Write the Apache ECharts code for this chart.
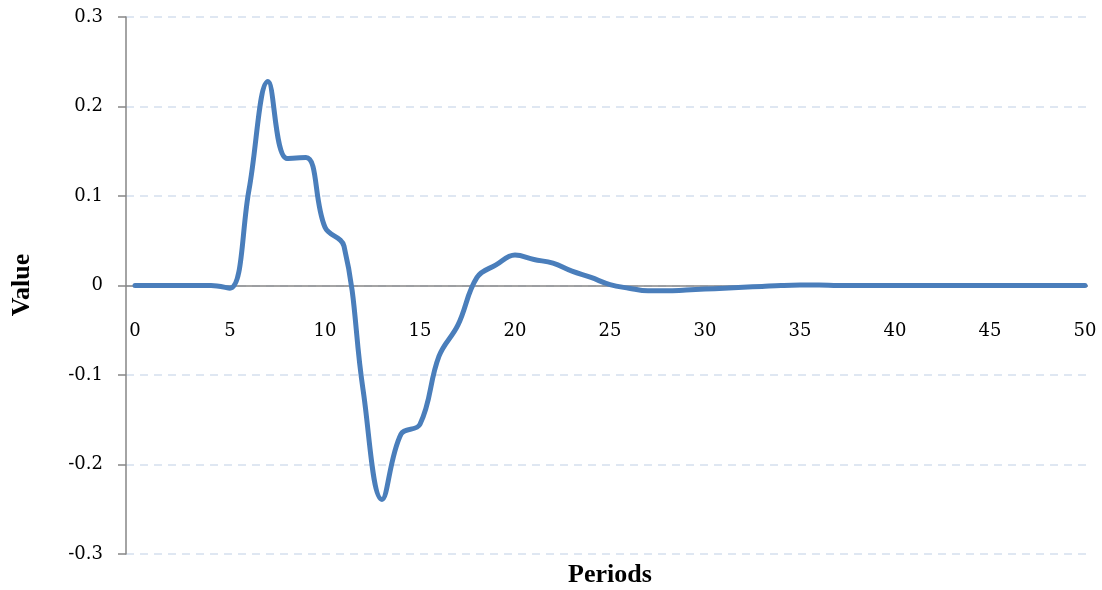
<!DOCTYPE html>
<html><head><meta charset="utf-8">
<script src="https://cdn.jsdelivr.net/npm/echarts@6/dist/echarts.min.js"></script>
<style>html,body{margin:0;padding:0;background:#fff}#c{width:1102px;height:590px}</style>
</head><body><div id="c"></div>
<script>
var periods = [];
for (var i = 0; i <= 50; i++) periods.push(i);
var values = [0, 0, 0, 0, 0, -0.003, 0.107, 0.228, 0.142, 0.143,
  0.065, 0.044, -0.116, -0.239, -0.166, -0.155, -0.079, -0.044, 0.009, 0.023,
  0.034, 0.029, 0.025, 0.016, 0.009, 0.001, -0.003, -0.006, -0.006, -0.005,
  -0.004, -0.003, -0.002, -0.001, 0, 0.0005, 0.0005, 0, 0, 0,
  0, 0, 0, 0, 0, 0, 0, 0, 0, 0, 0];
var xTicks = [0, 5, 10, 15, 20, 25, 30, 35, 40, 45, 50];

var chart = echarts.init(document.getElementById('c'));
var numFont = 'DejaVu Serif';
chart.setOption({
  animation: false,
  grid: {left: 126, right: 14, top: 17, bottom: 36, outerBoundsMode: 'none', containLabel: false},
  graphic: [{
    type: 'text', x: 610, y: 575, silent: true,
    style: {text: 'Periods', fontFamily: 'Liberation Serif', fontWeight: 'bold', fontSize: 26,
      fill: '#000', align: 'center', verticalAlign: 'middle'}
  }, {
    type: 'text', x: 22, y: 285, rotation: Math.PI / 2, silent: true,
    style: {text: 'Value', fontFamily: 'Liberation Serif', fontWeight: 'bold', fontSize: 26,
      fill: '#000', align: 'center', verticalAlign: 'middle'}
  }],
  xAxis: {
    type: 'value', min: -9/19, max: 50 + 3/19,
    axisLine: {show: false, onZero: false},
    axisTick: {show: false},
    splitLine: {show: false},
    axisLabel: {customValues: xTicks, margin: -232, fontFamily: numFont, fontSize: 18, color: '#000'}
  },
  yAxis: {
    type: 'value', min: -0.3, max: 0.3, interval: 0.1,
    axisLine: {show: true, onZero: false, lineStyle: {color: '#868686', width: 1.5}},
    axisTick: {show: true, length: 8, inside: false, lineStyle: {color: '#868686', width: 1.5}},
    axisLabel: {margin: 23, fontFamily: numFont, fontSize: 18, color: '#000',
      formatter: function (v) { var r = Math.round(v * 10) / 10; return r === 0 ? '0' : String(r); }},
    splitLine: {show: true, lineStyle: {color: '#d5dfee', type: [8, 6], width: 1.5}}
  },
  series: [{
    type: 'line',
    data: periods.map(function (p, i) { return [p, values[i]]; }),
    smooth: 0.4,
    symbol: 'none',
    lineStyle: {color: '#4a7ebb', width: 5, cap: 'round', join: 'round'},
    z: 3,
    markLine: {
      silent: true, symbol: 'none', label: {show: false}, z: 2,
      lineStyle: {color: '#868686', width: 1.5, type: 'solid'},
      emphasis: {disabled: true},
      data: [{yAxis: 0}]
    }
  }]
});
</script></body></html>
